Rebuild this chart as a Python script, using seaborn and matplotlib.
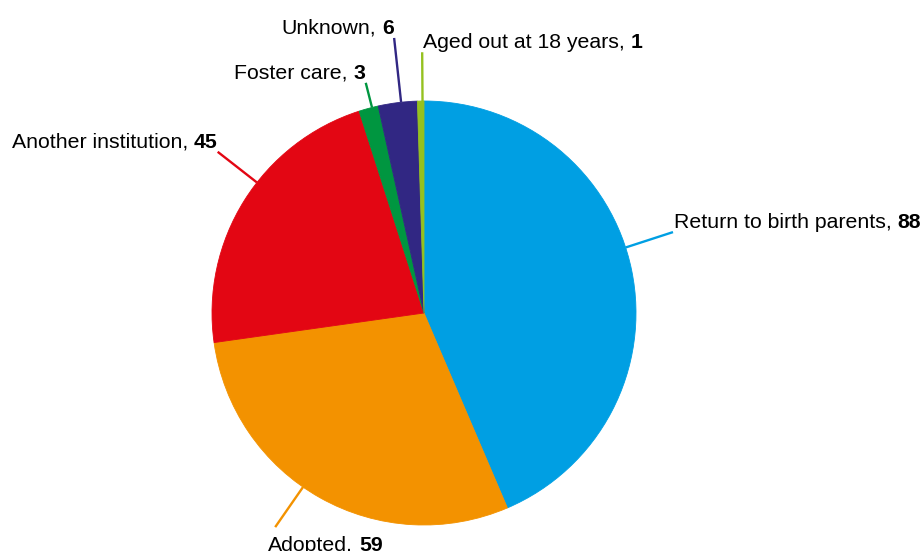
import matplotlib
matplotlib.use("Agg")
import matplotlib.pyplot as plt
import seaborn as sns
import numpy as np

# ---- data ----
categories = ["Return to birth parents", "Adopted", "Another institution",
              "Foster care", "Unknown", "Aged out at 18 years"]
values = [88, 59, 45, 3, 6, 1]
colors = ["#009FE3", "#F39200", "#E30613", "#009640", "#312783", "#95C11F"]

# ---- layout (leader line angle clockwise from top, end radius, text anchor) ----
label_angles = [72, 214.8, 308, 345.8, 353.8, 359.6]
label_radii = [1.235, 1.23, 1.235, 1.12, 1.305, 1.23]
anchors = ["bl", "tl", "br", "br", "br", "bl"]

sns.set_theme(style="white")
plt.rcParams['font.family'] = ['Liberation Sans', 'DejaVu Sans']

W, H = 922, 551
cx, cy, R = 424, 313, 212
fig = plt.figure(figsize=(W / 100, H / 100), dpi=100)
ax = fig.add_axes([0, 0, 1, 1])
palette = sns.color_palette(colors)
wedges, _ = ax.pie(values, colors=palette, startangle=90, counterclock=False,
                   radius=1, center=(0, 0), wedgeprops=dict(linewidth=0.6))
for w, c in zip(wedges, palette):
    w.set_edgecolor(c)
ax.set_aspect('auto')
ax.set_xlim(-cx / R, (W - cx) / R)
ax.set_ylim(-(H - cy) / R, cy / R)
ax.axis('off')

fs = 15.3
space_px = 6
for cat, val, col, ang, rad, anc in zip(categories, values, colors,
                                        label_angles, label_radii, anchors):
    t = np.radians(ang)
    dx, dy = np.sin(t), np.cos(t)
    ax.plot([dx * 1.0, dx * rad], [dy * 1.0, dy * rad], color=col, lw=1.7,
            solid_capstyle='butt')
    end = (dx * rad, dy * rad)
    if anc == "bl":
        t1 = ax.annotate(cat + ",", xy=end, xytext=(1, 0), textcoords='offset pixels',
                         ha='left', va='bottom', fontsize=fs, color='black')
        ax.annotate(str(val), xy=(1, 0), xycoords=t1, xytext=(space_px, 0),
                    textcoords='offset pixels', ha='left', va='bottom',
                    fontsize=fs, fontweight='bold', color='black')
    elif anc == "tl":
        t1 = ax.annotate(cat + ",", xy=end, xytext=(-7, -9), textcoords='offset pixels',
                         ha='left', va='top', fontsize=fs, color='black')
        ax.annotate(str(val), xy=(1, 0), xycoords=t1, xytext=(space_px, 0),
                    textcoords='offset pixels', ha='left', va='bottom',
                    fontsize=fs, fontweight='bold', color='black')
    else:
        t2 = ax.annotate(str(val), xy=end, xytext=(0, 0), textcoords='offset pixels',
                         ha='right', va='bottom', fontsize=fs, fontweight='bold',
                         color='black')
        ax.annotate(cat + ",", xy=(0, 0), xycoords=t2, xytext=(-space_px, 0),
                    textcoords='offset pixels', ha='right', va='bottom',
                    fontsize=fs, color='black')

fig.savefig("out.png", dpi=100)
